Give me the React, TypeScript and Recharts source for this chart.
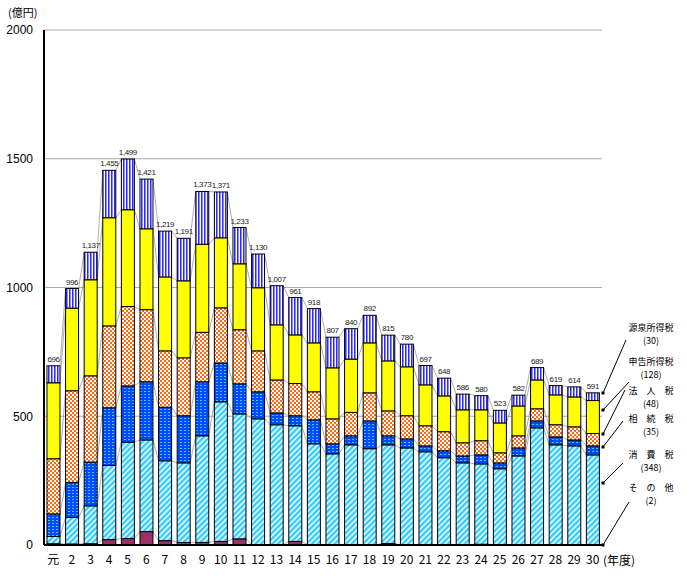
import { BarChart, Bar, XAxis, YAxis, CartesianGrid, LabelList } from 'recharts';

const years = ['元', '2', '3', '4', '5', '6', '7', '8', '9', '10', '11', '12', '13', '14', '15',
  '16', '17', '18', '19', '20', '21', '22', '23', '24', '25', '26', '27', '28', '29', '30'];

// 億円, bottom of the stack first
const sonota = [5, 4, 5, 21, 25, 52, 17, 10, 10, 14, 24, 2, 1, 14, 1, 1, 1, 1, 6, 1, 1, 1, 1, 3, 2, 1, 1, 1, 1, 2];
const shohi = [28, 103, 147, 288, 374, 356, 310, 309, 414, 542, 485, 488, 466, 449, 392, 353, 388, 373, 383, 376, 361, 338, 318, 312, 294, 345, 454, 388, 384, 348];
const sozoku = [88, 136, 170, 224, 219, 226, 208, 183, 210, 151, 117, 105, 46, 39, 93, 39, 35, 108, 35, 35, 23, 27, 27, 35, 23, 31, 27, 31, 23, 35];
const hojin = [214, 356, 335, 318, 308, 280, 219, 225, 192, 214, 210, 159, 128, 125, 109, 97, 91, 109, 97, 90, 78, 74, 51, 55, 39, 47, 47, 47, 51, 48];
const shinkoku = [295, 321, 373, 420, 376, 314, 287, 299, 342, 272, 256, 245, 214, 189, 190, 198, 207, 194, 194, 190, 159, 139, 128, 120, 116, 116, 112, 116, 116, 128];
const gensen = [66, 76, 107, 184, 197, 193, 178, 165, 205, 178, 141, 131, 152, 145, 133, 119, 118, 107, 100, 88, 75, 69, 61, 55, 49, 42, 48, 36, 39, 30];
const totals = [696, 996, 1137, 1455, 1499, 1421, 1219, 1191, 1373, 1371, 1233, 1130, 1007, 961, 918,
  807, 840, 892, 815, 780, 697, 648, 586, 580, 523, 582, 689, 619, 614, 591];

const yTicks = [0, 500, 1000, 1500, 2000];

const rows = years.map((year, i) => ({
  year,
  sonota: sonota[i],
  shohi: shohi[i],
  sozoku: sozoku[i],
  hojin: hojin[i],
  shinkoku: shinkoku[i],
  gensen: gensen[i],
  total: totals[i],
}));

const SERIES = [
  { key: 'sonota', fill: '#993366' },
  { key: 'shohi', fill: 'url(#pShohi)' },
  { key: 'sozoku', fill: 'url(#pSozoku)' },
  { key: 'hojin', fill: 'url(#pHojin)' },
  { key: 'shinkoku', fill: '#FFFF00' },
  { key: 'gensen', fill: 'url(#pGensen)' },
];

const W = 687;
const H = 576;
const M = { top: 30, right: 85, left: 8, bottom: 0 };
const Y_AXIS_W = 36;
const X_AXIS_H = 31;
const PLOT_W = W - M.left - Y_AXIS_W - M.right;
const PLOT_H = H - M.top - M.bottom - X_AXIS_H;
const BAND = PLOT_W / rows.length;
const FONT = '"Liberation Sans", Arial, "Noto Sans CJK JP", sans-serif';
const JP = '"Noto Sans CJK JP", "Liberation Sans", sans-serif';

// bar segment + thin grey line to the same segment of the next year
function makeShape(si: number) {
  return (props: any) => {
    const { x, y, width, height, index, background } = props;
    const h = Math.max(height || 0, 0);
    let link = null;
    if (index < rows.length - 1) {
      const bottom = background ? background.y + background.height : M.top + PLOT_H;
      const ppu = (background ? background.height : PLOT_H) / 2000;
      const next: any = rows[index + 1];
      let cum = 0;
      for (let k = 0; k <= si; k++) cum += next[SERIES[k].key];
      link = (
        <line x1={x + width} y1={y} x2={x + BAND} y2={bottom - cum * ppu} stroke="#999" strokeWidth={0.8} />
      );
    }
    return (
      <g>
        {link}
        <rect x={x} y={y} width={width} height={h} fill={SERIES[si].fill} stroke="#000" strokeWidth={1} />
      </g>
    );
  };
}

const legendItems = [
  { name: '源泉所得税', value: '(30)', y: 331, from: [603, 393], to: [626, 340] },
  { name: '申告所得税', value: '(128)', y: 365, from: [603, 410], to: [629, 382] },
  { name: '法　人　税', value: '(48)', y: 394, from: [603, 434], to: [625, 390] },
  { name: '相　続　税', value: '(35)', y: 422, from: [603, 447], to: [623, 421] },
  { name: '消　費　税', value: '(348)', y: 458, from: [603, 483], to: [623, 463] },
  { name: 'そ　の　他', value: '(2)', y: 491, from: [603, 545], to: [629, 502] },
];

function Overlay() {
  return (
    <svg width={W} height={H} style={{ position: 'absolute', left: 0, top: 0, pointerEvents: 'none' }}>
      <text x={8} y={17} fontSize={11} fontFamily={JP} fill="#000">(億円)</text>
      <text x={603} y={565} fontSize={12} fontFamily={JP} fill="#000">(年度)</text>
      {legendItems.map((d) => (
        <g key={d.name}>
          <line x1={d.from[0]} y1={d.from[1]} x2={d.to[0]} y2={d.to[1]} stroke="#000" strokeWidth={1} />
          <rect x={d.from[0] - 1.5} y={d.from[1] - 1.5} width={3} height={3} fill="#000" />
          <text x={651} y={d.y} fontSize={9} fontFamily={JP} textAnchor="middle" fill="#000">{d.name}</text>
          <text x={651} y={d.y + 13} fontSize={9} fontFamily={JP} textAnchor="middle" fill="#000">{d.value}</text>
        </g>
      ))}
    </svg>
  );
}

export default function App() {
  return (
    <div style={{ position: 'absolute', left: 0, top: 0, width: W, height: H, background: '#fff' }}>
      <BarChart width={W} height={H} data={rows} margin={M} barCategoryGap="16%">
        <defs>
          <pattern id="pGensen" width={3} height={4} patternUnits="userSpaceOnUse">
            <rect width={3} height={4} fill="#fff" />
            <rect x={0} width={1} height={4} fill="#2a2aff" />
            <rect x={1} width={1} height={4} fill="#8c8cff" />
          </pattern>
          <pattern id="pSozoku" width={4} height={3} patternUnits="userSpaceOnUse">
            <rect width={4} height={3} fill="#0048ff" />
            <rect x={0} y={1} width={2} height={1} fill="#33ccff" />
          </pattern>
          <pattern id="pHojin" width={4} height={4} patternUnits="userSpaceOnUse">
            <rect width={4} height={4} fill="#fff" />
            <rect x={0} y={0} width={2} height={2} fill="#ff6a10" />
            <rect x={2} y={2} width={2} height={2} fill="#ff6a10" />
          </pattern>
          <pattern id="pShohi" width={4} height={4} patternUnits="userSpaceOnUse" patternTransform="rotate(45)">
            <rect width={4} height={4} fill="#fff" />
            <rect x={0} width={2.5} height={4} fill="#33ccff" />
          </pattern>
        </defs>
        <CartesianGrid vertical={false} stroke="#aaa" />
        <XAxis
          dataKey="year"
          interval={0}
          height={X_AXIS_H}
          tickLine={false}
          tickMargin={4}
          axisLine={{ stroke: '#000', strokeWidth: 2 }}
          tick={{ fontSize: 12, fill: '#000', fontFamily: JP }}
        />
        <XAxis xAxisId="top" dataKey="year" orientation="top" height={0} tick={false} tickLine={false}
          axisLine={{ stroke: '#000', strokeWidth: 2 }} />
        <YAxis
          domain={[0, 2000]}
          ticks={yTicks}
          width={Y_AXIS_W}
          tickLine={false}
          tickMargin={5}
          axisLine={{ stroke: '#000', strokeWidth: 2 }}
          tick={{ fontSize: 12, fill: '#000', fontFamily: FONT }}
        />
        <YAxis yAxisId="right" orientation="right" width={0} domain={[0, 2000]} tick={false} tickLine={false}
          axisLine={{ stroke: '#000', strokeWidth: 2 }} />
        {SERIES.map((s, si) => (
          <Bar key={s.key} dataKey={s.key} stackId="a" fill={s.fill} shape={makeShape(si)} isAnimationActive={false}>
            {s.key === 'gensen' && (
              <LabelList
                dataKey="total"
                position="top"
                offset={4}
                fontSize={8}
                letterSpacing={-0.4}
                fontFamily={FONT}
                fill="#222"
                formatter={(v: any) => Number(v).toLocaleString('en-US')}
              />
            )}
          </Bar>
        ))}
      </BarChart>
      <Overlay />
    </div>
  );
}
